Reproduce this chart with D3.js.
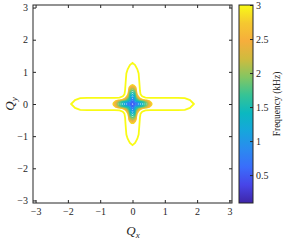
<!DOCTYPE html>
<html>
<head>
<meta charset="utf-8">
<script src="https://cdn.jsdelivr.net/npm/d3@7"></script>
<style>
  body { margin: 0; background: #fff; }
  text { font-family: "Liberation Serif", "Times New Roman", serif; fill: #262626; }
</style>
</head>
<body>
<div id="app"></div>
<script>
// axis ticks
const xTicks = [-3, -2, -1, 0, 1, 2, 3];
const yTicks = [-3, -2, -1, 0, 1, 2, 3];
const cbTicks = [0.5, 1, 1.5, 2, 2.5, 3];

// outer contour (3 kHz), first quadrant, [Qx, Qy]
const outerLevel = 3;
const outerQuad = [
  [1.9, 0], [1.78, 0.12], [1.62, 0.18], [1.4, 0.19], [0.9, 0.19], [0.55, 0.19],
  [0.4, 0.2], [0.3, 0.24], [0.25, 0.3], [0.23, 0.42], [0.21, 0.7], [0.19, 0.95],
  [0.15, 1.08], [0.08, 1.21], [0, 1.28]
];

// inner star contours: level and arm reach (Q units)
const innerLevels = [2.85, 2.7, 2.5, 2.3, 2.05, 1.8, 1.55, 1.3, 1.05, 0.8, 0.55];
const innerReach = [0.6, 0.575, 0.545, 0.51, 0.47, 0.42, 0.36, 0.29, 0.22, 0.15, 0.08];
// normalised star outline, first quadrant
const starQuad = [
  [1, 0], [0.88, 0.15], [0.7, 0.19], [0.5, 0.23], [0.37, 0.31],
  [0.31, 0.37], [0.23, 0.5], [0.19, 0.7], [0.15, 0.88], [0, 1]
];

const cbDomain = [0.09, 3];

// parula-like colormap
const parulaStops = ["#3e26a8", "#4745e8", "#3a6dfb", "#2a8bef", "#16a6dc", "#0bb8c0",
  "#36c395", "#84c662", "#cfbb3e", "#f6ae3c", "#f5c830", "#f9fb15"];
const parula = d3.scaleLinear()
  .domain(d3.range(parulaStops.length).map(i => i / (parulaStops.length - 1)))
  .range(parulaStops)
  .interpolate(d3.interpolateRgb);
const colorOf = v => parula((v - cbDomain[0]) / (cbDomain[1] - cbDomain[0]));

function mirror(q) {
  const a = q.map(p => [p[0], p[1]]);
  const b = q.slice(0, -1).reverse().map(p => [-p[0], p[1]]);
  const c = q.slice(1).map(p => [-p[0], -p[1]]);
  const d = q.slice(1, -1).reverse().map(p => [p[0], -p[1]]);
  return a.concat(b, c, d);
}

const W = 287, H = 240;
const svg = d3.select("#app").append("svg")
  .attr("width", W).attr("height", H);

const x = d3.scaleLinear().domain([-3.08, 3.08]).range([33, 232]);
const y = d3.scaleLinear().domain([-3.08, 3.08]).range([203, 5]);

const line = d3.line().x(d => x(d[0])).y(d => y(d[1])).curve(d3.curveLinearClosed);

const plot = svg.append("g");

plot.append("path")
  .datum(mirror(outerQuad))
  .attr("d", line)
  .attr("fill", "none")
  .attr("stroke", colorOf(outerLevel))
  .attr("stroke-width", 1.8);

const starLine = d3.line().x(d => x(d[0])).y(d => y(d[1])).curve(d3.curveCatmullRomClosed);
plot.selectAll("path.inner")
  .data(innerLevels.map((v, i) => ({ v, r: innerReach[i] })))
  .enter().append("path")
  .attr("class", "inner")
  .attr("d", d => starLine(mirror(starQuad).map(p => [p[0] * d.r, p[1] * d.r])))
  .attr("fill", "none")
  .attr("stroke", d => colorOf(d.v))
  .attr("stroke-width", 1.6);

// axes
const fmt = d3.format("~g");
svg.append("g").attr("transform", "translate(0,203)")
  .call(d3.axisBottom(x).tickValues(xTicks).tickFormat(fmt).tickSizeInner(-3).tickSizeOuter(0).tickPadding(5));
svg.append("g").attr("transform", "translate(0,5)")
  .call(d3.axisTop(x).tickValues(xTicks).tickFormat("").tickSizeInner(-3).tickSizeOuter(0));
svg.append("g").attr("transform", "translate(33,0)")
  .call(d3.axisLeft(y).tickValues(yTicks).tickFormat(fmt).tickSizeInner(-3).tickSizeOuter(0).tickPadding(5));
svg.append("g").attr("transform", "translate(232,0)")
  .call(d3.axisRight(y).tickValues(yTicks).tickFormat("").tickSizeInner(-3).tickSizeOuter(0));

svg.selectAll(".domain").remove();
svg.selectAll(".tick line").attr("stroke", "#262626");
svg.selectAll(".tick text").style("font-size", "10px").attr("fill", "#262626");

svg.append("rect")
  .attr("x", 33).attr("y", 5).attr("width", 199).attr("height", 198)
  .attr("fill", "none").attr("stroke", "#262626").attr("stroke-width", 1);

// axis labels
const xl = svg.append("text").attr("x", 133).attr("y", 235)
  .attr("text-anchor", "middle").style("font-size", "13px").style("font-style", "italic");
xl.append("tspan").text("Q");
xl.append("tspan").text("x").attr("dy", 3).style("font-size", "9px");

const yl = svg.append("text").attr("transform", "translate(14,104) rotate(-90)")
  .attr("text-anchor", "middle").style("font-size", "13px").style("font-style", "italic");
yl.append("tspan").text("Q");
yl.append("tspan").text("y").attr("dy", 3).style("font-size", "9px");

// colorbar
const cb = d3.scaleLinear().domain(cbDomain).range([203, 5]);
const defs = svg.append("defs");
const grad = defs.append("linearGradient").attr("id", "cbgrad")
  .attr("x1", 0).attr("y1", 1).attr("x2", 0).attr("y2", 0);
grad.selectAll("stop").data(parulaStops).enter().append("stop")
  .attr("offset", (d, i) => i / (parulaStops.length - 1))
  .attr("stop-color", d => d);

svg.append("rect")
  .attr("x", 239).attr("y", 5).attr("width", 14).attr("height", 198)
  .attr("fill", "url(#cbgrad)");

const cbAxis = svg.append("g").attr("transform", "translate(253,0)")
  .call(d3.axisRight(cb).tickValues(cbTicks).tickFormat(fmt).tickSizeInner(-3).tickSizeOuter(0).tickPadding(3));
cbAxis.select(".domain").remove();
cbAxis.selectAll(".tick line").attr("stroke", "#262626");
cbAxis.selectAll(".tick text").style("font-size", "10px").attr("fill", "#262626");

svg.append("rect")
  .attr("x", 239).attr("y", 5).attr("width", 14).attr("height", 198)
  .attr("fill", "none").attr("stroke", "#262626").attr("stroke-width", 1);

svg.append("text").attr("transform", "translate(280,104) rotate(-90)")
  .attr("text-anchor", "middle").style("font-size", "9.5px")
  .text("Frequency (kHz)");
</script>
</body>
</html>
